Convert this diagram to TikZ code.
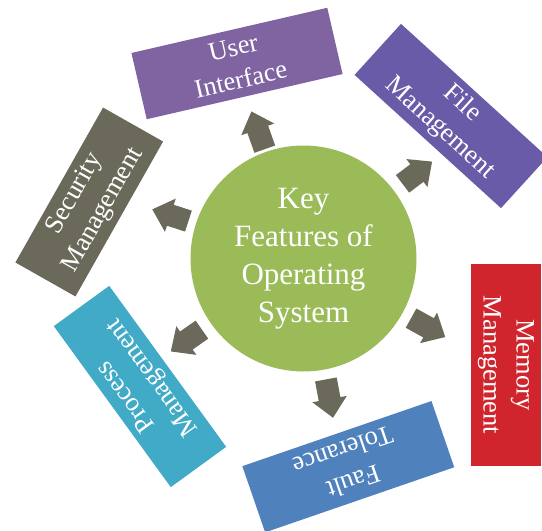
\documentclass[tikz,border=0pt]{standalone}
\usepackage{fontspec}
\setmainfont{Liberation Serif}
\definecolor{cgreen}{HTML}{9BBB59}
\definecolor{cuser}{HTML}{8064A2}
\definecolor{cfile}{HTML}{6A5BA8}
\definecolor{csec}{HTML}{6B6A5A}
\definecolor{cproc}{HTML}{41AAC6}
\definecolor{cfault}{HTML}{4F81BD}
\definecolor{cmem}{HTML}{D0252D}
\definecolor{carrow}{HTML}{6B6A5A}
\begin{document}
\begin{tikzpicture}[x=1pt,y=-1pt,
  box/.style={draw=none, text=white, align=center, inner sep=0pt,
    font=\fontsize{26.5}{33}\selectfont},
  hub/.style={circle, fill=cgreen, text=white, align=center, inner sep=0pt,
    minimum size=226pt, font=\fontsize{31}{38}\selectfont},
  blockarrow/.style={fill=carrow, draw=none}]
\useasboundingbox (0,0) rectangle (542,531);
\node[hub] (os) at (303.5,258.5) {Key\\Features of\\Operating\\System};
\node[box, fill=cuser, minimum width=201pt, minimum height=68pt, rotate=13] (ui) at (237,63.5) {User\\Interface};
\node[box, fill=cfile, minimum width=198pt, minimum height=69pt, rotate=-42.3] (fm) at (451,116) {File\\Management};
\node[box, fill=csec, minimum width=178pt, minimum height=69pt, rotate=60.5] (sm) at (89.25,202) {Security\\Management};
\node[box, fill=cproc, minimum width=199pt, minimum height=68.5pt, rotate=126] (pm) at (140,386.5) {Process\\Management};
\node[box, fill=cfault, minimum width=200pt, minimum height=70pt, rotate=199] (ft) at (348.3,466.7) {Fault\\Tolerance};
\node[box, fill=cmem, minimum width=202pt, minimum height=70pt, rotate=-90] (mm) at (506,365) {Memory\\Management};
\foreach \a/\r/\R in {109.5/116/156, 37/124/161, 162/121/159, 215/124/162, -79.5/123/162, -29/123/162}
  \fill[blockarrow, shift={(os.center)}, rotate=\a]
    (\r,-11) -- ({\R-19},-11) -- ({\R-19},-17.5) -- (\R,0) -- ({\R-19},17.5) -- ({\R-19},11) -- (\r,11) -- cycle;
\end{tikzpicture}
\end{document}
